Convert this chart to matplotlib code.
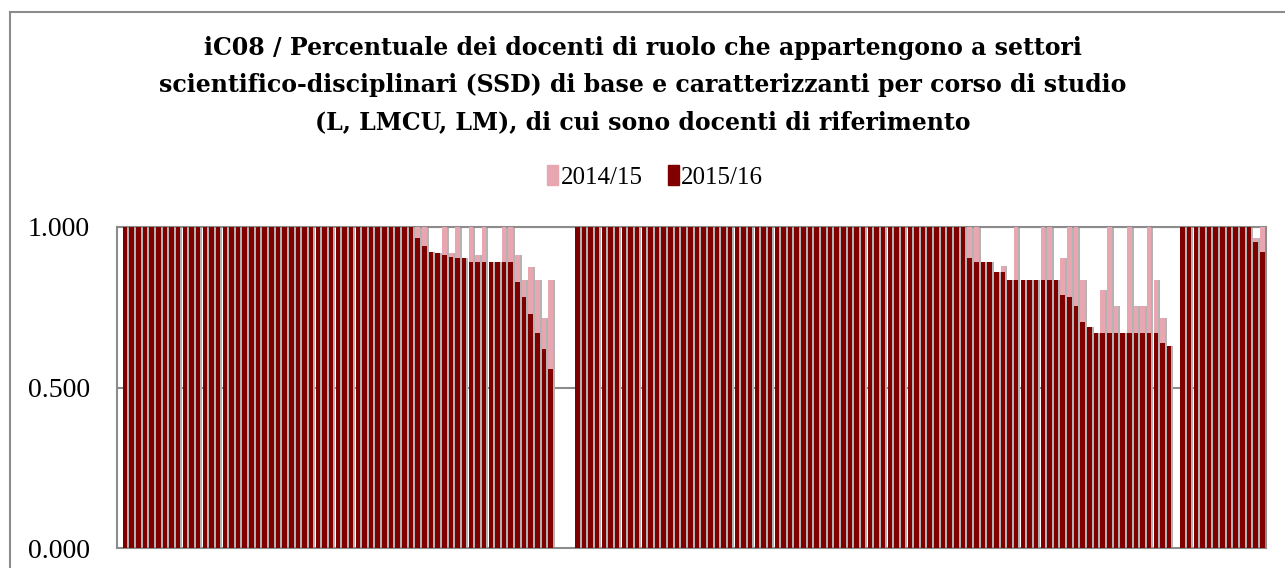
import numpy as np
import matplotlib
matplotlib.use("Agg")
import matplotlib.pyplot as plt
from matplotlib.lines import Line2D
from matplotlib.patches import Patch

# values, one list per course group (L / LMCU / LM)
g1_1415 = [1.000, 1.000, 1.000, 1.000, 1.000, 1.000, 1.000, 1.000, 1.000, 1.000,
           1.000, 1.000, 1.000, 1.000, 1.000, 1.000, 1.000, 1.000, 1.000, 1.000,
           1.000, 1.000, 1.000, 1.000, 1.000, 1.000, 1.000, 1.000, 1.000, 1.000,
           1.000, 1.000, 1.000, 1.000, 1.000, 1.000, 1.000, 1.000, 1.000, 1.000,
           1.000, 1.000, 1.000, 1.000, 1.000, 1.000, 0.922, 0.919, 1.000, 0.919,
           1.000, 0.902, 1.000, 0.912, 1.000, 0.892, 0.892, 1.000, 1.000, 0.912,
           0.835, 0.876, 0.835, 0.716, 0.835]
g1_1516 = [1.000, 1.000, 1.000, 1.000, 1.000, 1.000, 1.000, 1.000, 1.000, 1.000,
           1.000, 1.000, 1.000, 1.000, 1.000, 1.000, 1.000, 1.000, 1.000, 1.000,
           1.000, 1.000, 1.000, 1.000, 1.000, 1.000, 1.000, 1.000, 1.000, 1.000,
           1.000, 1.000, 1.000, 1.000, 1.000, 1.000, 1.000, 1.000, 1.000, 1.000,
           1.000, 1.000, 1.000, 1.000, 0.967, 0.941, 0.922, 0.919, 0.912, 0.908,
           0.902, 0.902, 0.892, 0.892, 0.892, 0.892, 0.892, 0.892, 0.892, 0.829,
           0.781, 0.730, 0.669, 0.619, 0.559]

g2_1415 = [1.000, 1.000, 1.000, 1.000, 1.000, 1.000, 1.000, 1.000, 1.000, 1.000,
           1.000, 1.000, 1.000, 1.000, 1.000, 1.000, 1.000, 1.000, 1.000, 1.000,
           1.000, 1.000, 1.000, 1.000, 1.000, 1.000, 1.000, 1.000, 1.000, 1.000,
           1.000, 1.000, 1.000, 1.000, 1.000, 1.000, 1.000, 1.000, 1.000, 1.000,
           1.000, 1.000, 1.000, 1.000, 1.000, 1.000, 1.000, 1.000, 1.000, 1.000,
           1.000, 1.000, 1.000, 1.000, 1.000, 1.000, 1.000, 1.000, 1.000, 1.000,
           1.000, 0.892, 0.892, 0.861, 0.879, 0.836, 1.000, 0.836, 0.836, 0.836,
           1.000, 1.000, 0.836, 0.902, 1.000, 1.000, 0.835, 0.690, 0.670, 0.804,
           1.000, 0.754, 0.670, 1.000, 0.754, 0.754, 1.000, 0.835, 0.717, 0.629]
g2_1516 = [1.000, 1.000, 1.000, 1.000, 1.000, 1.000, 1.000, 1.000, 1.000, 1.000,
           1.000, 1.000, 1.000, 1.000, 1.000, 1.000, 1.000, 1.000, 1.000, 1.000,
           1.000, 1.000, 1.000, 1.000, 1.000, 1.000, 1.000, 1.000, 1.000, 1.000,
           1.000, 1.000, 1.000, 1.000, 1.000, 1.000, 1.000, 1.000, 1.000, 1.000,
           1.000, 1.000, 1.000, 1.000, 1.000, 1.000, 1.000, 1.000, 1.000, 1.000,
           1.000, 1.000, 1.000, 1.000, 1.000, 1.000, 1.000, 1.000, 1.000, 0.902,
           0.892, 0.892, 0.892, 0.861, 0.861, 0.836, 0.836, 0.836, 0.836, 0.836,
           0.836, 0.836, 0.836, 0.789, 0.781, 0.754, 0.704, 0.690, 0.670, 0.670,
           0.670, 0.670, 0.670, 0.670, 0.670, 0.670, 0.670, 0.670, 0.640, 0.629]

g3_1415 = [1.000, 1.000, 1.000, 1.000, 1.000, 1.000, 1.000, 1.000, 1.000, 1.000,
           1.000, 0.965, 1.000]
g3_1516 = [1.000, 1.000, 1.000, 1.000, 1.000, 1.000, 1.000, 1.000, 1.000, 1.000,
           1.000, 0.952, 0.923]

series_names = ["2014/15", "2015/16"]
yticks = [0.0, 0.5, 1.0]
title_lines = ["iC08 / Percentuale dei docenti di ruolo che appartengono a settori",
               "scientifico-disciplinari (SSD) di base e caratterizzanti per corso di studio",
               "(L, LMCU, LM), di cui sono docenti di riferimento"]

PINK = "#e8a6b1"
DARK = "#800000"
FONT = "Liberation Serif"


def main():
    W, H = 1285, 568
    fig = plt.figure(figsize=(W / 100, H / 100), dpi=100)
    plt.rcParams["font.family"] = FONT

    # chart frame (cropped on right/bottom in the original)
    fig.add_artist(Line2D([10 / W, 10 / W], [0, 1 - 12 / H], color="#8c8c8c", lw=1.5))
    fig.add_artist(Line2D([10 / W, 1], [1 - 12 / H, 1 - 12 / H], color="#8c8c8c", lw=1.5))

    left, right, top, bottom = 116.5, 1266, 227, 548
    ax = fig.add_axes([left / W, 1 - bottom / H, (right - left) / W, (bottom - top) / H])

    # slot positions: groups separated by empty categories
    x1 = np.arange(len(g1_1415))
    x2 = np.arange(len(g2_1415)) + len(g1_1415) + 3
    x3 = np.arange(len(g3_1415)) + x2[-1] + 2
    xs = np.concatenate([x1, x2, x3])
    p = np.concatenate([g1_1415, g2_1415, g3_1415])
    d = np.concatenate([g1_1516, g2_1516, g3_1516])

    bw = 0.68
    # soft shadow to the right of each column
    ax.bar(xs + 0.3, np.maximum(p, d), width=bw, color="#b3b3b3", zorder=2)
    ax.bar(xs, p, width=bw, color=PINK, zorder=3)
    ax.bar(xs, d, width=bw, color=DARK, zorder=4)

    ax.set_xlim(-1.28, xs[-1] + 0.56)
    ax.set_ylim(0, 1)
    ax.set_yticks(yticks)
    ax.set_yticklabels(["{:.3f}".format(v) for v in yticks], fontsize=20)
    ax.tick_params(axis="y", length=0, pad=19)
    ax.set_xticks([])
    for y in yticks[1:]:
        ax.axhline(y, color="#8c8c8c", lw=1.5, zorder=1)
    for s in ax.spines.values():
        s.set_color("#8c8c8c")
        s.set_linewidth(1.5)

    # title lines placed one by one to get the wide line spacing
    for line, yc in zip(title_lines, [48, 85, 122]):
        fig.text(0.5, 1 - yc / H, line, ha="center", va="center", fontsize=17,
                 fontweight="bold", family="DejaVu Serif")

    handles = [Patch(color=PINK), Patch(color=DARK)]
    fig.legend(handles, series_names, loc="center", bbox_to_anchor=(655 / W, 1 - 177 / H),
               ncol=2, frameon=False, fontsize=18, handlelength=0.45, handleheight=0.8,
               handletextpad=0.1, columnspacing=1.0)

    fig.savefig("out.png", dpi=100)


if __name__ == '__main__':
    main()
